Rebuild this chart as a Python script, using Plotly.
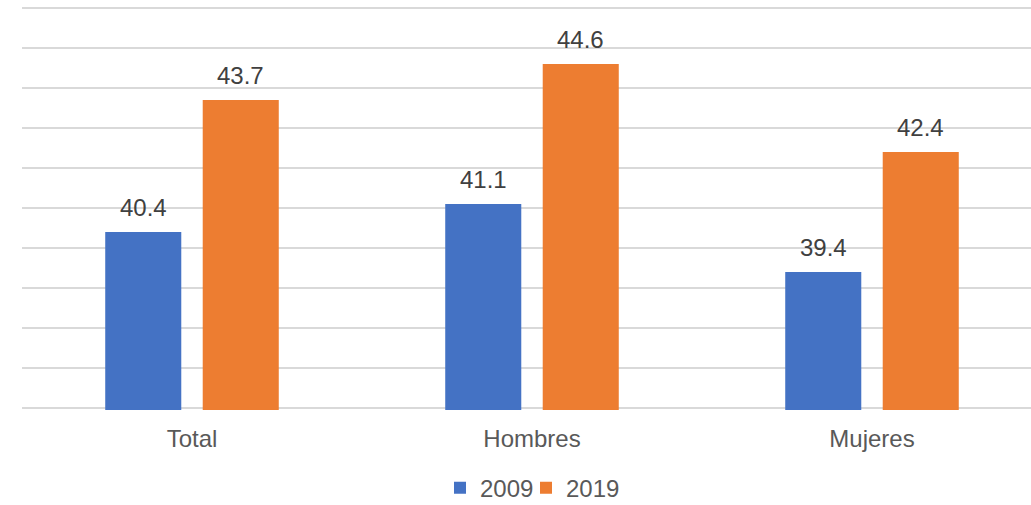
import plotly.graph_objects as go

categories = ["Total", "Hombres", "Mujeres"]
series_names = ["2009", "2019"]
values_2009 = [40.4, 41.1, 39.4]
values_2019 = [43.7, 44.6, 42.4]
colors = ["#4472C4", "#ED7D31"]

W, H = 1031, 505
px_per_unit = 40.0
y_lo, y_hi, pad = 36, 46, 0.05
ml, mr = 22, 0
mt = 8 - pad * px_per_unit
plot_h = (y_hi - y_lo + 2 * pad) * px_per_unit
mb = H - mt - plot_h
cat_px = 340.0
bargap = 0.4265
bargroupgap = 0.22
font_family = "Liberation Sans, Arial, sans-serif"
fs = 24

legend_ids = ["legend", "legend2"]
legend_left_px = [440, 526]

fig = go.Figure()
for name, vals, col, lid in zip(series_names, [values_2009, values_2019], colors, legend_ids):
    fig.add_trace(go.Bar(name=name, x=categories, y=vals, legend=lid,
                         marker=dict(color=col, line=dict(width=0))))

annotations = []
group_w = 1 - bargap
for si, vals in enumerate([values_2009, values_2019]):
    off = (si - 0.5) * group_w / 2
    for ci, v in enumerate(vals):
        annotations.append(dict(x=ci + off, y=v, xref="x", yref="y", text=f"{v:.1f}",
                                showarrow=False, yanchor="bottom", yshift=9,
                                font=dict(size=fs, color="#404040", family=font_family)))

xr_right = -0.5 + (W - ml - mr) / cat_px
legend_common = dict(orientation="h", xanchor="left", y=-0.138, yanchor="top",
                     bgcolor="rgba(0,0,0,0)", font=dict(size=fs, color="#595959"))
fig.update_layout(
    width=W, height=H,
    margin=dict(l=ml, r=mr, t=mt, b=mb, autoexpand=False),
    barmode="group", bargap=bargap, bargroupgap=bargroupgap,
    plot_bgcolor="white", paper_bgcolor="white",
    font=dict(family=font_family, size=fs, color="#595959"),
    xaxis=dict(type="category", range=[-0.5, xr_right], showgrid=False, ticks="",
               showline=False, ticklabelstandoff=12,
               tickfont=dict(size=fs, color="#595959")),
    yaxis=dict(range=[y_lo - pad, y_hi + pad], dtick=1, tick0=36, showticklabels=False,
               showgrid=True, gridcolor="#d9d9d9", gridwidth=1.5, zeroline=False, showline=False),
    legend=dict(x=(legend_left_px[0] - ml) / (W - ml - mr), **legend_common),
    legend2=dict(x=(legend_left_px[1] - ml) / (W - ml - mr), **legend_common),
    annotations=annotations,
    showlegend=True,
)
fig.write_html("out.html", config={"displayModeBar": False},
               post_script="document.body.style.margin='0';")
